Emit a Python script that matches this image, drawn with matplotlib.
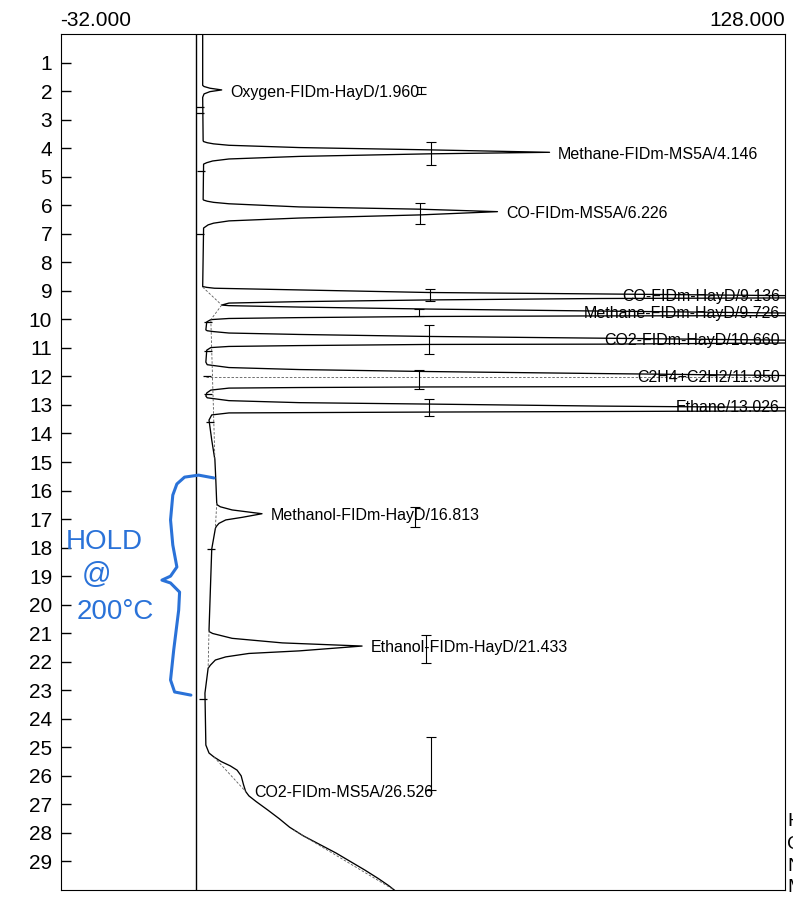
import matplotlib.pyplot as plt

plt.rcParams['font.family'] = ['Liberation Sans', 'DejaVu Sans']

# detector trace: retention time (min) / signal
trace_t = [0.00, 1.80,
           1.84, 1.90, 1.96, 2.02, 2.10, 2.22, 3.74,                                   # oxygen
           3.77, 3.81, 3.85, 3.90, 3.98, 4.06, 4.146, 4.20, 4.29, 4.38, 4.45, 4.51,
           4.56, 5.80,                                                                 # methane MS5A
           5.82, 5.86, 5.90, 5.95, 6.06, 6.14, 6.226, 6.34, 6.45, 6.55, 6.63, 6.69,
           6.80, 8.85,                                                                 # CO MS5A
           8.88, 8.91, 8.97, 9.06, 9.11, 9.17, 9.21, 9.25, 9.27, 9.32, 9.38, 9.43, 9.50,  # CO HayD
           9.52, 9.57, 9.64, 9.71, 9.78, 9.82, 9.87, 9.88, 9.90, 9.94, 9.97, 10.01,
           10.09, 10.37,                                                               # methane HayD
           10.40, 10.43, 10.48, 10.53, 10.60, 10.66, 10.73, 10.78, 10.83, 10.87, 10.88,
           10.92, 10.95, 10.99, 11.08, 11.50,                                          # CO2 HayD
           11.59, 11.62, 11.69, 11.76, 11.83, 11.90, 11.97, 12.15, 12.34, 12.36, 12.37,
           12.39, 12.41, 12.48, 12.58, 12.69,                                          # C2H4+C2H2
           12.75, 12.78, 12.85, 12.92, 12.97, 13.04, 13.09, 13.15, 13.21, 13.23, 13.25,
           13.27, 13.28, 13.35, 13.53, 14.23, 14.93, 15.63, 16.44,                     # ethane
           16.50, 16.57, 16.68, 16.813, 16.94, 17.03, 17.15, 17.26, 17.33, 18.05, 20.89,  # methanol
           20.95, 21.01, 21.18, 21.34, 21.45, 21.62, 21.71, 21.83, 21.94, 22.12, 22.23,
           23.10, 24.92,                                                               # ethanol
           25.20, 25.34, 25.50, 25.65, 25.80, 26.00, 26.30, 26.55, 26.70, 26.90,
           27.20, 27.50, 27.80, 28.10, 28.40, 28.70, 29.00, 29.30, 29.60, 29.85, 30.00]
trace_v = [-0.6, -0.6,
           -0.3, 1.0, 3.6, 1.0, -0.3, -0.6, -0.5,
           -0.4, 0.4, 1.8, 5.2, 20.7, 49.4, 76.0, 49.4, 20.7, 5.2, 1.6, 0.3,
           -0.4, -0.5,
           -0.4, 0.4, 1.8, 5.2, 20.7, 47.4, 64.5, 47.4, 20.7, 5.2, 1.8, 0.6,
           -0.4, -0.6,
           0.3, 2.0, 20.7, 49.4, 87.0, 128.0, 170.0, 128.0, 87.0, 49.4, 20.7, 5.2, 3.6,
           5.2, 20.7, 49.4, 87.0, 128.0, 170.0, 128.0, 87.0, 49.4, 20.7, 5.2, 1.2,
           0.3, 0.1,
           0.4, 1.8, 5.2, 20.7, 49.4, 87.0, 128.0, 170.0, 128.0, 87.0, 49.4,
           20.7, 5.2, 1.2, 0.3, 0.1,
           0.4, 1.8, 5.2, 20.7, 49.4, 87.0, 128.0, 170.0, 128.0, 87.0, 49.4,
           20.7, 5.2, 1.2, 0.3, 0.1,
           0.4, 1.8, 5.2, 20.7, 49.4, 87.0, 128.0, 170.0, 128.0, 87.0, 49.4,
           20.7, 5.2, 1.4, 0.8, 1.4, 2.1, 2.3, 2.5,
           2.6, 3.3, 5.9, 12.5, 8.1, 4.5, 3.0, 2.4, 2.2, 1.4, 0.8,
           0.9, 1.6, 5.9, 17.0, 34.6, 20.7, 9.6, 4.5, 2.2, 1.1, 0.6,
           -0.1, 0.1,
           0.8, 1.9, 3.5, 5.5, 7.0, 7.9, 8.4, 8.9, 9.6, 11.2,
           13.8, 16.3, 18.6, 21.6, 25.2, 28.8, 32.0, 35.2, 38.2, 40.5, 41.7]

# dashed baselines: (t0, v0, t1, v1)
base_segments = [(8.87, -0.6, 9.50, 3.6), (9.50, 3.6, 10.01, 1.2), (10.01, 1.2, 14.93, 2.1),
                 (12.02, 0.1, 12.02, 126.0), (16.44, 2.5, 17.33, 2.2), (20.89, 0.8, 22.23, 0.6),
                 (25.34, 1.9, 26.55, 8.9), (27.90, 19.5, 30.00, 41.7)]

# integration marks on the trace
mark_t = [2.56, 2.77, 4.80, 7.00, 10.08, 11.10, 12.00, 12.60, 13.60, 18.05, 23.30]
mark_v = [-1.2, -1.2, -1.0, -1.2, 0.5, 0.5, 0.4, 0.5, 1.0, 1.2, -0.6]

# peak labels
peak_names = ['Oxygen-FIDm-HayD', 'Methane-FIDm-MS5A', 'CO-FIDm-MS5A', 'CO-FIDm-HayD',
              'Methane-FIDm-HayD', 'CO2-FIDm-HayD', 'C2H4+C2H2', 'Ethane',
              'Methanol-FIDm-HayD', 'Ethanol-FIDm-HayD', 'CO2-FIDm-MS5A']
peak_rt = [1.960, 4.146, 6.226, 9.136, 9.726, 10.660, 11.950, 13.026, 16.813, 21.433, 26.526]
peak_tip = [3.6, 76.0, 64.5, None, None, None, None, None, 12.5, 34.6, 8.9]

# window bars
bar_v = [47.7, 49.9, 47.4, 49.7, 47.2, 49.4, 47.2, 49.4, 46.3, 48.8, 49.9]
bar_lo = [1.85, 3.77, 5.91, 8.94, 9.64, 10.20, 11.78, 12.79, 16.58, 21.07, 24.64]
bar_hi = [2.10, 4.59, 6.66, 9.36, 9.88, 11.20, 12.44, 13.39, 17.28, 22.05, 26.50]

# hand-drawn brace (signal, time)
brace_v = [1.9, -1.5, -4.6, -6.3, -7.2, -7.7, -7.2, -6.3, -7.7, -9.6, -7.7, -5.7, -5.9, -7.0, -7.7, -6.8, -3.2]
brace_t = [15.56, 15.46, 15.53, 15.77, 16.16, 17.03, 17.91, 18.68, 19.0, 19.14, 19.24, 19.56, 20.19, 21.59, 22.64, 23.06, 23.17]

fig = plt.figure(figsize=(7.93, 8.97), dpi=100)
ax = fig.add_axes([60.5/793, 7/897, 724.5/793, 856/897])

ax.axvline(-2.1, color='k', lw=1.0)
ax.plot(trace_v, trace_t, color='k', lw=0.95)
for t0, v0, t1, v1 in base_segments:
    ax.plot([v0, v1], [t0, t1], color='0.35', lw=0.6, ls=(0, (3, 2)))
ax.plot(mark_v, mark_t, ls='none', marker='_', ms=6, mew=0.9, color='k')

mid = [(a + b) / 2 for a, b in zip(bar_lo, bar_hi)]
ax.errorbar(bar_v, mid, yerr=[[m - a for m, a in zip(mid, bar_lo)], [b - m for m, b in zip(mid, bar_hi)]],
            fmt='none', ecolor='k', elinewidth=0.8, capsize=3.5, capthick=0.8)

for name, rt, tip in zip(peak_names, peak_rt, peak_tip):
    lab = '%s/%.3f' % (name, rt)
    if tip is None:
        ax.text(126.9, rt + 0.08, lab, ha='right', va='center', fontsize=11.5)
    else:
        ax.annotate(lab, (tip, rt), xytext=(6, -1.5), textcoords='offset points',
                    ha='left', va='center', fontsize=11.5)

# handwriting
blue = '#2a72d8'
ax.plot(brace_v, brace_t, color=blue, lw=2.2, solid_capstyle='round')
ax.text(-22.4, 17.8, 'HOLD', color=blue, fontsize=20, ha='center', va='center')
ax.text(-24.0, 18.95, '@', color=blue, fontsize=21, ha='center', va='center')
ax.text(-20.0, 20.25, '200°C', color=blue, fontsize=20, ha='center', va='center')

ax.set_xlim(-32, 128)
ax.set_ylim(30, 0)
ax.set_xticks([])
ax.set_yticks(range(1, 30))
ax.tick_params(axis='y', direction='in', length=7, width=1, labelsize=15, pad=6)
ax.text(0, 1.005, '-32.000', transform=ax.transAxes, ha='left', va='bottom', fontsize=15)
ax.text(1, 1.005, '128.000', transform=ax.transAxes, ha='right', va='bottom', fontsize=15)

# side text, cut off by the page edge in the scan
for s, y in zip(['H', 'C', 'N', 'M'], [821, 844, 866, 887]):
    fig.text(787/793, 1 - y/897, s, fontsize=14, va='center', ha='left')

fig.savefig('out.png', dpi=100)
